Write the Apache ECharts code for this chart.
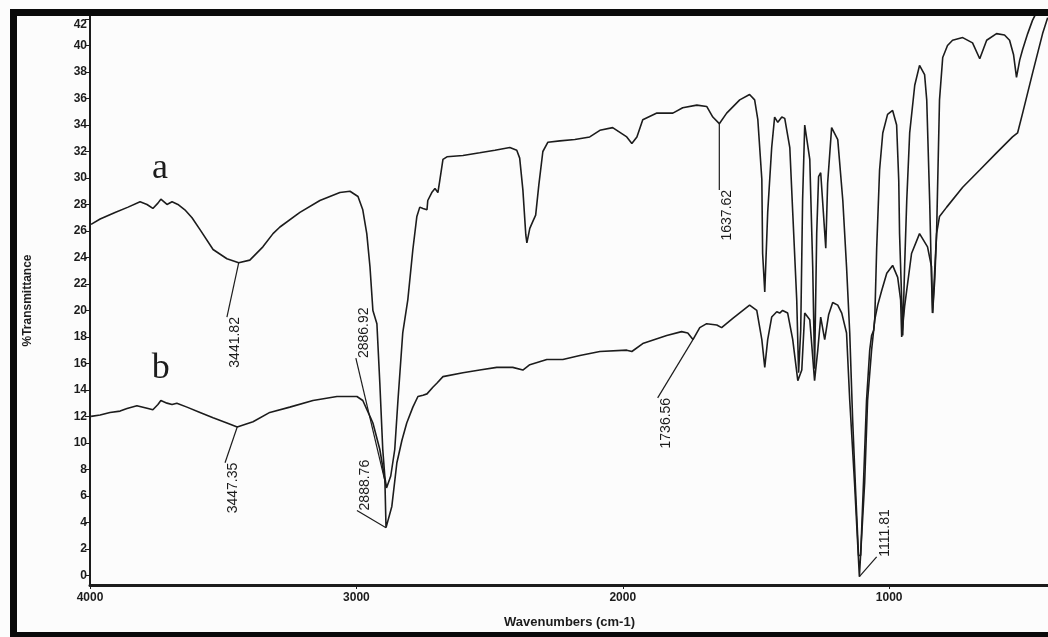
<!DOCTYPE html>
<html>
<head>
<meta charset="utf-8">
<script src="https://cdn.jsdelivr.net/npm/echarts@6/dist/echarts.min.js"></script>
<style>
html,body{margin:0;padding:0;background:#fcfcfc;}
#chart{width:1048px;height:637px;}
</style>
</head>
<body>
<div id="chart"></div>
<script>
// ---- data (wavenumber cm-1, %Transmittance) ----
const curveA = [
 [3996,26.5],[3962,26.9],[3906,27.4],[3857,27.8],[3812,28.2],[3786,28.0],[3764,27.7],[3745,28.1],[3734,28.4],
 [3711,28.0],[3692,28.2],[3670,28.0],[3644,27.6],[3617,27.0],[3587,26.1],[3538,24.6],[3486,23.9],[3441.82,23.6],
 [3400,23.8],[3351,24.8],[3313,25.8],[3287,26.3],[3212,27.4],[3137,28.3],[3062,28.9],[3024,29.0],[2994,28.6],
 [2976,27.6],[2961,25.8],[2949,23.3],[2938,20.0],[2923,19.0],[2912,14.5],[2901,9.5],[2893,7.4],[2886.92,6.6],
 [2871,7.5],[2856,9.5],[2844,13.2],[2826,18.3],[2807,20.8],[2788,24.6],[2773,27.1],[2762,27.8],[2750,27.7],
 [2735,27.6],[2732,28.3],[2717,28.9],[2705,29.2],[2694,28.9],[2687,29.8],[2675,31.4],[2660,31.6],[2600,31.7],
 [2537,31.9],[2480,32.1],[2424,32.3],[2398,32.1],[2387,31.5],[2375,29.1],[2364,25.7],[2360,25.1],[2349,26.2],
 [2338,26.7],[2327,27.2],[2315,29.5],[2300,32.0],[2281,32.7],[2236,32.8],[2180,32.9],[2124,33.1],[2086,33.6],
 [2038,33.8],[1985,33.1],[1966,32.6],[1947,33.1],[1925,34.4],[1872,34.9],[1824,34.9],[1812,34.9],[1775,35.3],
 [1722,35.5],[1685,35.4],[1662,34.6],[1637.62,34.1],[1610,34.9],[1561,35.9],[1524,36.3],[1505,35.9],[1493,34.4],
 [1478,29.9],[1475,24.3],[1467,21.4],[1456,27.4],[1441,32.3],[1430,34.6],[1418,34.2],[1403,34.6],[1392,34.5],
 [1373,32.3],[1362,27.4],[1347,20.8],[1340,15.3],[1332,18.5],[1325,28.3],[1317,34.0],[1298,31.4],[1287,23.3],
 [1280,15.6],[1272,25.8],[1265,30.1],[1257,30.4],[1250,28.3],[1238,24.7],[1231,29.6],[1216,33.8],[1193,32.9],
 [1174,28.3],[1160,23.3],[1148,18.3],[1137,11.7],[1126,6.4],[1115,1.5],[1107,1.5],[1096,7.2],[1085,13.2],
 [1073,17.0],[1066,18.1],[1058,18.5],[1054,19.4],[1047,24.6],[1036,30.6],[1024,33.4],[1006,34.8],[987,35.1],
 [972,34.0],[964,29.8],[961,25.8],[953,20.8],[949,18.1],[942,23.3],[934,28.3],[923,33.4],[904,37.0],[886,38.5],
 [867,37.8],[859,35.9],[848,28.3],[841,22.3],[837,19.8],[829,22.3],[822,25.8],[811,35.9],[799,39.1],[781,40.0],
 [762,40.4],[724,40.6],[687,40.2],[660,39.0],[634,40.4],[597,40.9],[567,40.8],[548,40.4],[533,39.3],[522,37.6],
 [510,38.9],[499,39.7],[480,40.9],[462,41.9],[447,42.5],[417,43.0]
];
const curveB = [
 [3996,12.0],[3962,12.1],[3925,12.3],[3887,12.4],[3861,12.6],[3824,12.8],[3782,12.6],[3764,12.5],[3745,12.9],
 [3734,13.2],[3711,13.0],[3692,12.9],[3674,13.0],[3636,12.7],[3587,12.3],[3538,11.9],[3486,11.5],[3447.35,11.2],
 [3388,11.6],[3325,12.3],[3250,12.7],[3163,13.2],[3073,13.5],[2998,13.5],[2976,13.2],[2949,12.0],[2938,11.5],
 [2912,9.5],[2893,7.2],[2888.76,3.6],[2867,5.2],[2848,8.5],[2829,10.2],[2811,11.5],[2788,12.7],[2769,13.5],
 [2750,13.6],[2735,13.7],[2713,14.2],[2698,14.5],[2675,15.0],[2600,15.3],[2537,15.5],[2473,15.7],[2413,15.7],
 [2375,15.5],[2349,15.9],[2285,16.3],[2225,16.3],[2161,16.6],[2086,16.9],[1985,17.0],[1966,16.9],[1925,17.5],
 [1835,18.1],[1779,18.4],[1756,18.3],[1736.56,17.8],[1711,18.7],[1685,19.0],[1647,18.9],[1629,18.7],[1587,19.4],
 [1524,20.4],[1497,20.0],[1478,17.8],[1467,15.7],[1456,17.8],[1441,19.5],[1422,19.9],[1411,19.8],[1400,20.0],
 [1381,19.8],[1362,17.8],[1343,14.7],[1328,15.5],[1317,19.8],[1298,19.3],[1280,14.7],[1268,17.0],[1257,19.5],
 [1242,17.8],[1227,19.7],[1212,20.6],[1193,20.4],[1178,19.8],[1160,18.3],[1148,13.2],[1130,7.0],[1111.81,-0.1],
 [1092,7.0],[1081,13.2],[1066,17.0],[1054,19.3],[1043,20.4],[1028,21.5],[1009,22.8],[987,23.4],[968,22.5],
 [957,20.8],[953,18.0],[942,20.3],[916,24.3],[886,25.8],[856,24.8],[841,23.3],[837,19.8],[822,25.8],[811,27.1],
 [784,27.8],[724,29.3],[660,30.6],[597,31.9],[537,33.1],[518,33.4],[499,34.9],[462,37.9],[424,40.9],[405,42.1]
];
const xTicks = [4000, 3000, 2000, 1000];
const yTicks = [0,2,4,6,8,10,12,14,16,18,20,22,24,26,28,30,32,34,36,38,40,42];
// peak annotations: label, peak point, leader end; 'top' = text ends at the leader end, 'bottom' = text starts there
const peakText = ['3441.82','2886.92','3447.35','2888.76','1736.56','1637.62','1111.81'];
const peakFrom = [[3441.82,23.6],[2886.92,6.6],[3447.35,11.2],[2888.76,3.6],[1736.56,17.8],[1637.62,34.1],[1111.81,-0.1]];
const peakTo   = [[3486,19.5],[3002,16.4],[3493,8.5],[2998,4.9],[1869,13.4],[1637.62,29.1],[1047,1.4]];
const peakEnd  = ['top','bottom','top','bottom','top','top','bottom'];
// curve names
const curveNames = ['a','b'];
const curveNamePos = [[3737,30.7],[3734,15.6]];

const chart = echarts.init(document.getElementById('chart'), null, {renderer:'canvas'});
const ink = '#1c1c1c';
const tickFont = {fontFamily:'"Liberation Sans", Arial, sans-serif', fontWeight:'bold', fontSize:12, color:ink};

chart.setOption({
  backgroundColor:'#fcfcfc',
  animation:false,
  grid:{left:90, right:-1, top:16, bottom:52, containLabel:false, outerBoundsMode:'none'},
  xAxis:{
    type:'value', inverse:true, min:400, max:4000,
    name:'Wavenumbers (cm-1)', nameLocation:'middle', nameGap:31,
    nameTextStyle:{fontFamily:'"Liberation Sans", Arial, sans-serif', fontWeight:'bold', fontSize:13, color:ink},
    axisLine:{show:true, onZero:false, lineStyle:{color:ink, width:3}},
    axisTick:{show:true, length:4, customValues:xTicks, lineStyle:{color:ink, width:1}},
    axisLabel:Object.assign({customValues:xTicks, margin:7, formatter:function(v){return String(v);}}, tickFont),
    splitLine:{show:false}
  },
  yAxis:{
    type:'value', min:-0.73, max:42.23,
    name:'%Transmittance', nameLocation:'middle', nameGap:56, nameRotate:90,
    nameTextStyle:{fontFamily:'"Liberation Sans", Arial, sans-serif', fontWeight:'bold', fontSize:12, color:ink},
    axisLine:{show:true, onZero:false, lineStyle:{color:ink, width:2}},
    axisTick:{show:true, length:5, customValues:yTicks, lineStyle:{color:ink, width:1}},
    axisLabel:Object.assign({customValues:yTicks, margin:3,
      formatter:function(v){return v===42 ? '{top|42}' : String(v);},
      rich:{top:{padding:[12,0,0,0], fontFamily:'"Liberation Sans", Arial, sans-serif', fontWeight:'bold', fontSize:12, color:ink}}
    }, tickFont),
    splitLine:{show:false}
  },
  graphic:[{type:'rect', z:100, silent:true, shape:{x:13.5, y:12.5, width:1100, height:623},
            style:{fill:'none', stroke:'#0a0a0a', lineWidth:7}}],
  series:[
    {type:'line', data:curveA, showSymbol:false, symbol:'none', lineStyle:{color:ink, width:1.6}, z:3},
    {type:'line', data:curveB, showSymbol:false, symbol:'none', lineStyle:{color:ink, width:1.6}, z:3},
    {type:'custom', z:4, clip:false,
     data: peakFrom.map((p,i)=>[p[0],p[1],peakTo[i][0],peakTo[i][1]]),
     renderItem:function(params, api){
       const i = params.dataIndex;
       const a = api.coord(peakFrom[i]);
       const b = api.coord(peakTo[i]);
       return {type:'group', children:[
         {type:'line', shape:{x1:a[0],y1:a[1],x2:b[0],y2:b[1]}, style:{stroke:ink, lineWidth:1.2}},
         {type:'text', x:b[0]+1, y:b[1], rotation:Math.PI/2,
          style:{text:peakText[i], font:'14px "Liberation Sans", Arial, sans-serif', fill:ink,
                 align: peakEnd[i]==='top' ? 'right' : 'left', verticalAlign:'top'}}
       ]};
     }},
    {type:'custom', z:4, clip:false,
     data: curveNamePos,
     renderItem:function(params, api){
       const p = api.coord(curveNamePos[params.dataIndex]);
       return {type:'text', x:p[0], y:p[1],
               style:{text:curveNames[params.dataIndex], font:'36px "Liberation Serif", "Times New Roman", serif',
                      fill:ink, align:'center', verticalAlign:'middle'}};
     }}
  ]
});
</script>
</body>
</html>
